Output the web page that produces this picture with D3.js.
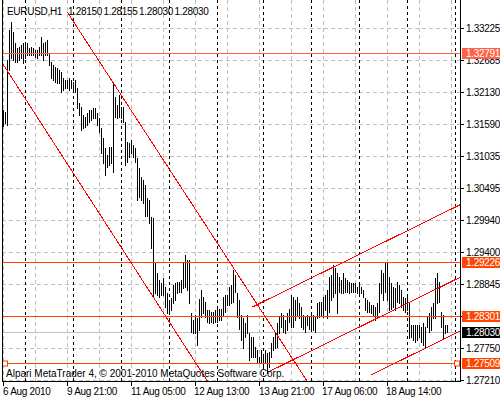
<!DOCTYPE html>
<html>
<head>
<meta charset="utf-8">
<script src="https://cdn.jsdelivr.net/npm/d3@7"></script>
<style>
body { margin: 0; background: #fff; }
text { font-family: "Liberation Sans", Arial, sans-serif; font-size: 10px; letter-spacing: -0.3px; }
text.footer { letter-spacing: 0; }
</style>
</head>
<body>
<svg width="500" height="400"></svg>
<script>
// EURUSD H1 bars, one value per hour
var highs = [
  1.3182, 1.3179, 1.3268, 1.3319, 1.3332, 1.3316, 1.3297, 1.3289, 1.3290, 1.3294,
  1.3297, 1.3299, 1.3297, 1.3289, 1.3290, 1.3289, 1.3285, 1.3285, 1.3290, 1.3307,
  1.3297, 1.3299, 1.3302, 1.3280, 1.3264, 1.3259, 1.3256, 1.3254, 1.3251, 1.3247,
  1.3237, 1.3234, 1.3234, 1.3237, 1.3234, 1.3230, 1.3234, 1.3220, 1.3194, 1.3187,
  1.3174, 1.3170, 1.3177, 1.3182, 1.3182, 1.3186, 1.3186, 1.3177, 1.3169, 1.3151,
  1.3134, 1.3117, 1.3105, 1.3119, 1.3119, 1.3229, 1.3204, 1.3191, 1.3208, 1.3187,
  1.3187, 1.3162, 1.3128, 1.3126, 1.3131, 1.3123, 1.3117, 1.3100, 1.3083, 1.3068,
  1.3063, 1.3054, 1.3032, 1.3028, 1.2999, 1.2997, 1.2921, 1.2904, 1.2892, 1.2887,
  1.2895, 1.2880, 1.2870, 1.2857, 1.2861, 1.2883, 1.2887, 1.2888, 1.2888, 1.2892,
  1.2921, 1.2934, 1.2926, 1.2926, 1.2835, 1.2823, 1.2832, 1.2827, 1.2859, 1.2875,
  1.2863, 1.2855, 1.2840, 1.2840, 1.2837, 1.2837, 1.2840, 1.2845, 1.2843, 1.2843,
  1.2862, 1.2866, 1.2866, 1.2880, 1.2883, 1.2909, 1.2900, 1.2870, 1.2857, 1.2832,
  1.2827, 1.2818, 1.2832, 1.2801, 1.2794, 1.2794, 1.2777, 1.2772, 1.2760, 1.2772,
  1.2760, 1.2772, 1.2767, 1.2768, 1.2784, 1.2794, 1.2801, 1.2818, 1.2828, 1.2835,
  1.2832, 1.2823, 1.2835, 1.2843, 1.2866, 1.2862, 1.2857, 1.2862, 1.2852, 1.2845,
  1.2832, 1.2828, 1.2832, 1.2828, 1.2835, 1.2832, 1.2828, 1.2852, 1.2854, 1.2854,
  1.2862, 1.2866, 1.2875, 1.2897, 1.2900, 1.2917, 1.2912, 1.2904, 1.2897, 1.2892,
  1.2904, 1.2895, 1.2892, 1.2888, 1.2887, 1.2887, 1.2887, 1.2880, 1.2883, 1.2880,
  1.2875, 1.2861, 1.2857, 1.2854, 1.2849, 1.2849, 1.2845, 1.2852, 1.2887, 1.2909,
  1.2904, 1.2921, 1.2921, 1.2897, 1.2887, 1.2880, 1.2878, 1.2888, 1.2883, 1.2875,
  1.2862, 1.2861, 1.2862, 1.2854, 1.2815, 1.2815, 1.2815, 1.2815, 1.2815, 1.2811,
  1.2818, 1.2811, 1.2828, 1.2835, 1.2845, 1.2852, 1.2895, 1.2904, 1.2888, 1.2837,
  1.2832, 1.2815, 1.28155
];
var lows = [
  1.3155, 1.3160, 1.3157, 1.3251, 1.3272, 1.3268, 1.3265, 1.3265, 1.3268, 1.3272,
  1.3263, 1.3272, 1.3277, 1.3277, 1.3277, 1.3277, 1.3273, 1.3272, 1.3277, 1.3277,
  1.3268, 1.3277, 1.3277, 1.3259, 1.3237, 1.3234, 1.3230, 1.3229, 1.3229, 1.3213,
  1.3216, 1.3220, 1.3220, 1.3216, 1.3220, 1.3216, 1.3213, 1.3186, 1.3174, 1.3148,
  1.3151, 1.3153, 1.3157, 1.3162, 1.3165, 1.3169, 1.3169, 1.3157, 1.3145, 1.3109,
  1.3092, 1.3071, 1.3085, 1.3088, 1.3092, 1.3076, 1.3170, 1.3169, 1.3170, 1.3169,
  1.3162, 1.3088, 1.3094, 1.3102, 1.3109, 1.3102, 1.3094, 1.3028, 1.3033, 1.3028,
  1.3023, 1.3002, 1.3002, 1.2989, 1.2946, 1.2862, 1.2869, 1.2866, 1.2862, 1.2866,
  1.2866, 1.2845, 1.2835, 1.2837, 1.2840, 1.2852, 1.2857, 1.2870, 1.2871, 1.2871,
  1.2878, 1.2880, 1.2875, 1.2852, 1.2803, 1.2801, 1.2801, 1.2781, 1.2806, 1.2829,
  1.2835, 1.2829, 1.2820, 1.2818, 1.2820, 1.2818, 1.2820, 1.2820, 1.2823, 1.2823,
  1.2832, 1.2837, 1.2849, 1.2849, 1.2852, 1.2854, 1.2871, 1.2829, 1.2809, 1.2789,
  1.2775, 1.2794, 1.2801, 1.2755, 1.2760, 1.2760, 1.2760, 1.2750, 1.2750, 1.2750,
  1.2746, 1.2750, 1.2733, 1.2743, 1.2760, 1.2772, 1.2775, 1.2777, 1.2801, 1.2811,
  1.2803, 1.2801, 1.2806, 1.2820, 1.2811, 1.2811, 1.2823, 1.2832, 1.2827, 1.2811,
  1.2809, 1.2803, 1.2815, 1.2809, 1.2806, 1.2806, 1.2803, 1.2827, 1.2829, 1.2832,
  1.2829, 1.2840, 1.2827, 1.2837, 1.2857, 1.2862, 1.2870, 1.2835, 1.2871, 1.2870,
  1.2870, 1.2871, 1.2871, 1.2870, 1.2871, 1.2871, 1.2871, 1.2870, 1.2866, 1.2870,
  1.2862, 1.2840, 1.2837, 1.2837, 1.2835, 1.2832, 1.2823, 1.2829, 1.2837, 1.2870,
  1.2857, 1.2871, 1.2857, 1.2840, 1.2843, 1.2845, 1.2840, 1.2854, 1.2852, 1.2845,
  1.2840, 1.2837, 1.2840, 1.2793, 1.2794, 1.2789, 1.2786, 1.2789, 1.2794, 1.2786,
  1.2781, 1.2775, 1.2811, 1.2803, 1.2806, 1.2827, 1.2827, 1.2852, 1.2854, 1.2811,
  1.2793, 1.2801, 1.28030
];

var quote = [1.28150, 1.28155, 1.28030, 1.28030];   // open high low close of last bar
var bid = 1.28030;

var priceTicks = [1.33225, 1.32685, 1.32130, 1.31590, 1.31035, 1.30495,
                  1.29940, 1.29400, 1.28845, 1.28305, 1.27750, 1.27210];

var timeLabels = ["6 Aug 2010", "9 Aug 21:00", "11 Aug 05:00", "12 Aug 13:00",
                  "13 Aug 21:00", "17 Aug 06:00", "18 Aug 14:00"];
var timeLabelBars = [0, 32, 64, 96, 128, 160, 192];
var gridBars = [0, 16, 32, 48, 64, 80, 96, 112, 128, 144, 160, 176, 192, 208, 224];
var daySeparatorBars = [11, 35, 59, 83, 107, 130, 154, 178, 202, 226];

// horizontal lines drawn on the chart
var levels = [1.32791, 1.29226, 1.28301, 1.27509];

// trend lines: [bar, price] start point and a second point, drawn as rays
var trendLines = [
  [[32, 1.3349], [152, 1.2718]],
  [[-2, 1.3270], [102, 1.2719]],
  [[124, 1.2845], [228, 1.3020]],
  [[132, 1.2734], [228, 1.2896]],
  [[184, 1.2730], [228, 1.2804]]
];

var svg = d3.select('svg');

var x = d3.scaleLinear().domain([0, 228]).range([3.5, 459.5]);
var y = d3.scaleLinear().domain([1.27210, 1.33225]).range([380, 28]);
function py(v) { return Math.round(y(v)) + 0.5; }

var plotLeft = 2, plotRight = 460, plotTop = 0, plotBottom = 381;

svg.append('defs').append('clipPath').attr('id', 'plot')
  .append('rect').attr('x', plotLeft + 1).attr('y', plotTop)
  .attr('width', plotRight - plotLeft - 1).attr('height', plotBottom - plotTop);

var plot = svg.append('g').attr('clip-path', 'url(#plot)');

// grid
plot.selectAll('line.hgrid').data(priceTicks).enter().append('line')
  .attr('class', 'hgrid')
  .attr('x1', plotLeft).attr('x2', plotRight)
  .attr('y1', function(d) { return py(d); }).attr('y2', function(d) { return py(d); })
  .style('stroke', '#c0c0c0').style('stroke-dasharray', '4,3');

plot.selectAll('line.vgrid').data(gridBars).enter().append('line')
  .attr('class', 'vgrid')
  .attr('x1', function(d) { return x(d); }).attr('x2', function(d) { return x(d); })
  .attr('y1', plotTop).attr('y2', plotBottom)
  .style('stroke', '#c0c0c0').style('stroke-dasharray', '4,3');

// period separators
plot.selectAll('line.sep').data(daySeparatorBars).enter().append('line')
  .attr('class', 'sep')
  .attr('x1', function(d) { return x(d); }).attr('x2', function(d) { return x(d); })
  .attr('y1', plotTop).attr('y2', plotBottom)
  .style('stroke', '#000').style('stroke-dasharray', '3,3');

// bid line
plot.append('line')
  .attr('x1', plotLeft).attr('x2', plotRight)
  .attr('y1', py(bid)).attr('y2', py(bid))
  .style('stroke', '#c0c0c0');

// bars
plot.selectAll('line.bar').data(highs).enter().append('line')
  .attr('class', 'bar')
  .attr('x1', function(d, i) { return x(i); }).attr('x2', function(d, i) { return x(i); })
  .attr('y1', function(d) { return Math.round(y(d)); })
  .attr('y2', function(d, i) { return Math.round(y(lows[i])) + 1; })
  .style('stroke', '#000')
  .style('shape-rendering', 'crispEdges');

// horizontal level lines
function levelColor(i) { return i === 0 ? '#ff6347' : '#ff4500'; }
plot.selectAll('line.level').data(levels).enter().append('line')
  .attr('class', 'level')
  .attr('x1', plotLeft).attr('x2', plotRight)
  .attr('y1', function(d) { return py(d); }).attr('y2', function(d) { return py(d); })
  .style('stroke', function(d, i) { return levelColor(i); })
  .style('shape-rendering', 'crispEdges');

// trend lines
plot.selectAll('line.trend').data(trendLines).enter().append('line')
  .attr('class', 'trend')
  .attr('x1', function(d) { return x(d[0][0]); })
  .attr('y1', function(d) { return y(d[0][1]); })
  .attr('x2', function(d) { return x(300); })
  .attr('y2', function(d) {
    var slope = (d[1][1] - d[0][1]) / (d[1][0] - d[0][0]);
    return y(d[0][1] + slope * (300 - d[0][0]));
  })
  .style('stroke', '#ff0000')
  .style('shape-rendering', 'crispEdges');

// handles of the selected line
var sel = levels[3];
[plotLeft + 3, plotRight - 3].forEach(function(cx) {
  svg.append('rect')
    .attr('x', cx - 2.5).attr('y', py(sel) - 2.5)
    .attr('width', 5).attr('height', 5)
    .style('fill', '#fff').style('stroke', '#ff4500');
});

// frame
svg.append('line').attr('x1', plotLeft + 0.5).attr('x2', plotLeft + 0.5).attr('y1', plotTop).attr('y2', plotBottom + 1).style('stroke', '#000');
svg.append('line').attr('x1', plotRight + 0.5).attr('x2', plotRight + 0.5).attr('y1', plotTop).attr('y2', plotBottom + 1).style('stroke', '#000');
svg.append('line').attr('x1', plotLeft).attr('x2', plotRight + 1).attr('y1', plotBottom + 0.5).attr('y2', plotBottom + 0.5).style('stroke', '#000');

// price axis
var pAxis = svg.append('g');
priceTicks.forEach(function(p) {
  pAxis.append('line').attr('x1', plotRight).attr('x2', plotRight + 4)
    .attr('y1', py(p)).attr('y2', py(p)).style('stroke', '#000');
  pAxis.append('text').attr('x', 466).attr('y', Math.round(y(p)) + 4).text(p.toFixed(5));
});

function priceTag(p, bg) {
  var cy = Math.round(y(p));
  pAxis.append('rect').attr('x', 462).attr('y', cy - 5).attr('width', 38).attr('height', 11).style('fill', bg);
  pAxis.append('text').attr('x', 466).attr('y', cy + 4).style('fill', '#fff').text(p.toFixed(5));
}
levels.forEach(function(p, i) { priceTag(p, levelColor(i)); });
priceTag(bid, '#000');

// time axis
var tAxis = svg.append('g');
timeLabelBars.forEach(function(b, i) {
  tAxis.append('line').attr('x1', x(b)).attr('x2', x(b))
    .attr('y1', plotBottom + 1).attr('y2', plotBottom + 5).style('stroke', '#000');
  tAxis.append('text').attr('x', Math.round(x(b)) - 1).attr('y', 395).text(timeLabels[i]);
});

// header and footer
svg.append('text').attr('x', 7).attr('y', 15).text('EURUSD,H1');
quote.forEach(function(q, i) {
  svg.append('text').attr('x', 68 + i * 35.5).attr('y', 15).text(q.toFixed(5));
});
svg.append('text').attr('class', 'footer').attr('x', 6).attr('y', 377)
  .text('Alpari MetaTrader 4, \u00a9 2001-2010 MetaQuotes Software Corp.');
</script>
</body>
</html>
